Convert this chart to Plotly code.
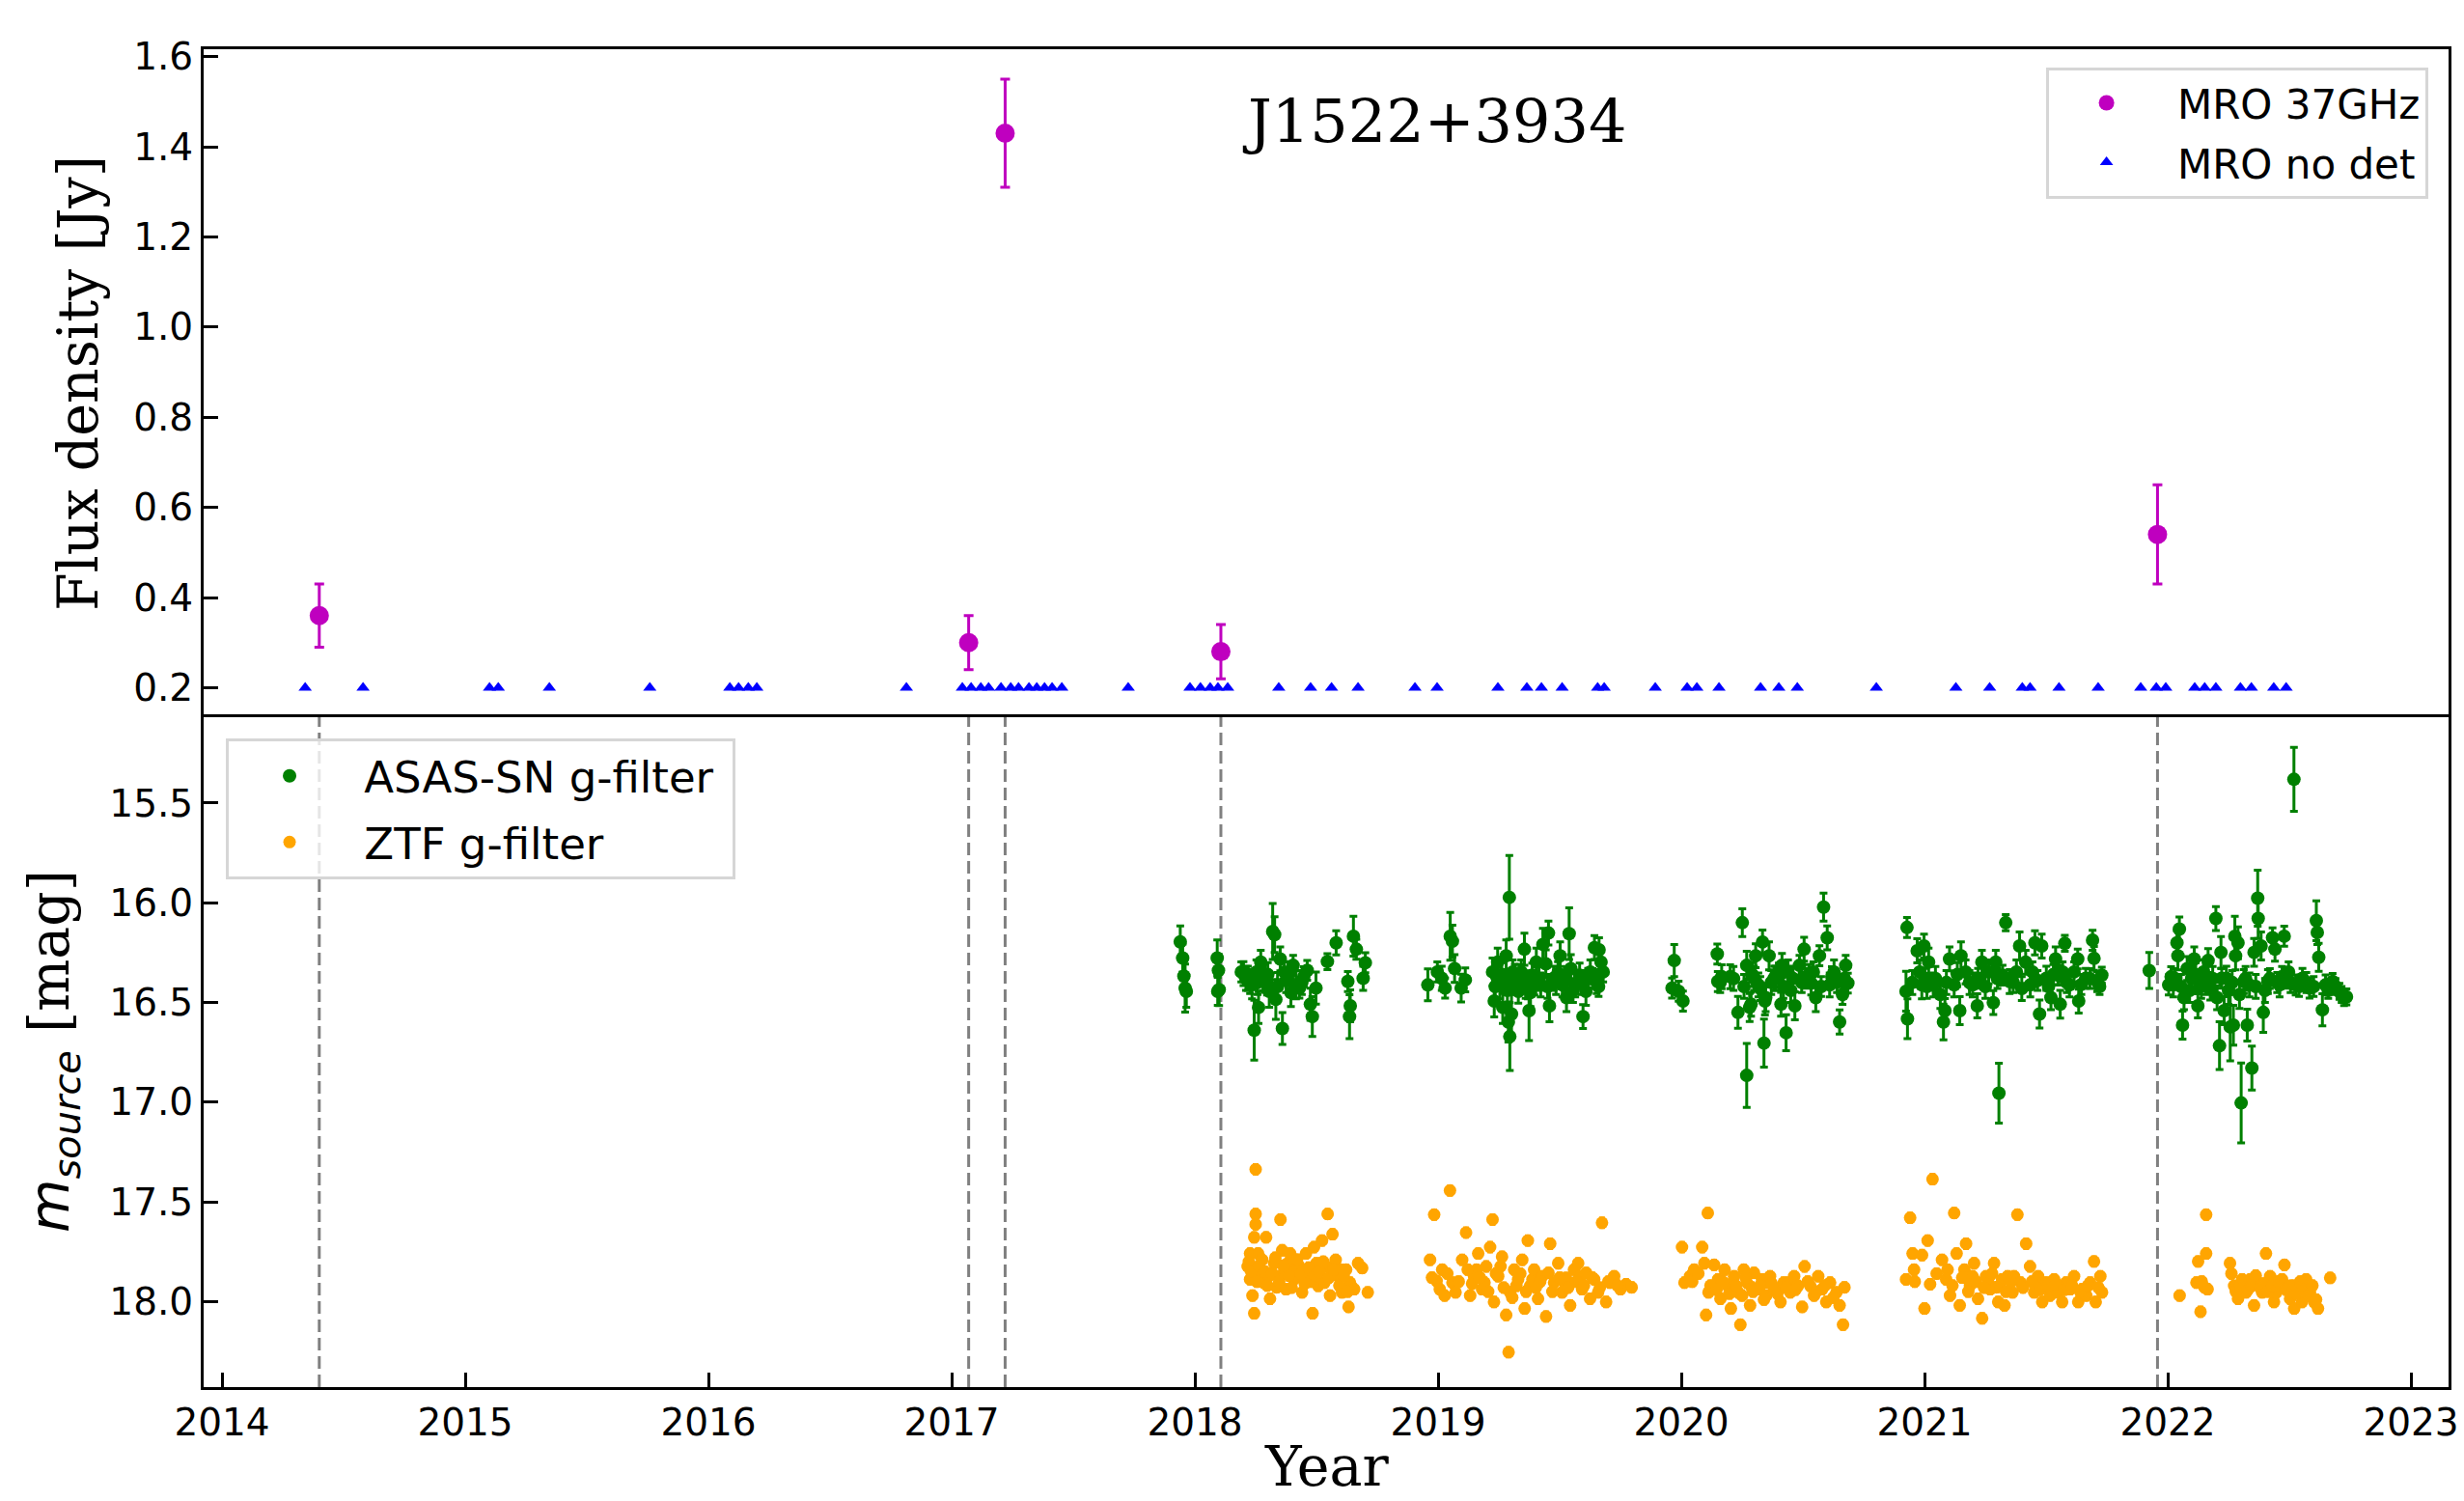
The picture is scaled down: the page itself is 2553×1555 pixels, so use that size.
import plotly.graph_objects as go

# ---------------- data ----------------
mro_year = [2014.40, 2017.07, 2017.22, 2018.107, 2021.958]
mro_flux = [0.36, 0.30, 1.43, 0.28, 0.54]
mro_err = [0.07, 0.06, 0.12, 0.06, 0.11]

nodet_year = [2014.342, 2014.580, 2015.100, 2015.136, 2015.346, 2015.759,
              2016.088, 2016.124, 2016.164, 2016.199, 2016.814,
              2017.044, 2017.080, 2017.120, 2017.152, 2017.203, 2017.243,
              2017.275, 2017.318, 2017.350, 2017.382, 2017.413, 2017.453,
              2017.726, 2017.980, 2018.023, 2018.063, 2018.095, 2018.135,
              2018.345, 2018.476, 2018.562, 2018.671, 2018.905, 2018.996,
              2019.246, 2019.365, 2019.425, 2019.510, 2019.656, 2019.683,
              2019.893, 2020.024, 2020.064, 2020.155, 2020.326, 2020.401,
              2020.477, 2020.802, 2021.129, 2021.268, 2021.402, 2021.434,
              2021.553, 2021.714, 2021.889, 2021.953, 2021.992, 2022.111,
              2022.152, 2022.198, 2022.299, 2022.344, 2022.436, 2022.487]
nodet_flux = [0.2] * len(nodet_year)

asas_year = [
    2017.940, 2017.950, 2017.955, 2017.960, 2017.965, 2018.092, 2018.097, 2018.100, 2018.094,
    2018.191, 2018.200, 2018.218, 2018.227, 2018.235, 2018.244, 2018.253, 2018.262, 2018.271,
    2018.280, 2018.289, 2018.297, 2018.306, 2018.320, 2018.328, 2018.333, 2018.351, 2018.360,
    2018.368, 2018.386, 2018.404, 2018.416, 2018.430, 2018.448, 2018.462, 2018.475, 2018.483,
    2018.498, 2018.545, 2018.581, 2018.629, 2018.639, 2018.636, 2018.652, 2018.664, 2018.692,
    2018.701,
    2018.958, 2018.997, 2019.015, 2019.029, 2019.050, 2019.059, 2019.068, 2019.095, 2019.112,
    2019.224, 2019.231, 2019.241, 2019.245, 2019.254, 2019.266, 2019.272, 2019.280, 2019.289,
    2019.293, 2019.295, 2019.302, 2019.307, 2019.316, 2019.330, 2019.342, 2019.348, 2019.355,
    2019.369, 2019.374, 2019.387, 2019.396, 2019.404, 2019.422, 2019.431, 2019.443, 2019.454,
    2019.458, 2019.475, 2019.493, 2019.502, 2019.511, 2019.528, 2019.539, 2019.546, 2019.564,
    2019.582, 2019.596, 2019.608, 2019.617, 2019.626, 2019.643, 2019.652, 2019.662, 2019.670,
    2019.679,
    2019.962, 2019.971, 2019.989, 2020.007, 2020.148, 2020.150, 2020.166, 2020.201, 2020.233,
    2020.251, 2020.269, 2020.269, 2020.281, 2020.287, 2020.299, 2020.306, 2020.317, 2020.334,
    2020.340, 2020.344, 2020.347, 2020.361, 2020.382, 2020.387, 2020.401, 2020.410, 2020.414,
    2020.431, 2020.439, 2020.458, 2020.467, 2020.486, 2020.505, 2020.515, 2020.534, 2020.543,
    2020.553, 2020.568, 2020.585, 2020.600, 2020.610, 2020.619, 2020.628, 2020.651, 2020.663,
    2020.676, 2020.685,
    2020.924, 2020.928, 2020.930, 2020.970, 2020.980, 2020.989, 2020.998, 2021.002, 2021.017,
    2021.036, 2021.065, 2021.078, 2021.084, 2021.103, 2021.122, 2021.145, 2021.150, 2021.169,
    2021.198, 2021.217, 2021.220, 2021.236, 2021.264, 2021.283, 2021.293, 2021.306, 2021.321,
    2021.334, 2021.350, 2021.378, 2021.391, 2021.416, 2021.435, 2021.444, 2021.454, 2021.473,
    2021.482, 2021.501, 2021.520, 2021.539, 2021.549, 2021.558, 2021.568, 2021.577, 2021.596,
    2021.615, 2021.630, 2021.634, 2021.663, 2021.691, 2021.697, 2021.710, 2021.729,
    2021.924, 2022.004, 2022.014, 2022.023, 2022.038, 2022.042, 2022.048, 2022.061, 2022.067,
    2022.080, 2022.099, 2022.109, 2022.124, 2022.128, 2022.147, 2022.166, 2022.175, 2022.198,
    2022.203, 2022.213, 2022.219, 2022.222, 2022.232, 2022.241, 2022.257, 2022.270, 2022.276,
    2022.279, 2022.289, 2022.302, 2022.313, 2022.327, 2022.336, 2022.346, 2022.355, 2022.370,
    2022.372, 2022.384, 2022.393, 2022.412, 2022.431, 2022.441, 2022.460, 2022.479, 2022.488,
    2022.497, 2022.519, 2022.526, 2022.554, 2022.583, 2022.611, 2022.615, 2022.621, 2022.636,
    2022.649, 2022.678, 2022.706, 2022.725, 2022.735,
    # dense cores
    2018.210, 2018.258, 2018.300, 2018.340, 2018.375, 2018.395, 2018.440,
    2019.235, 2019.262, 2019.285, 2019.312, 2019.335, 2019.360, 2019.380, 2019.415, 2019.450,
    2019.485, 2019.520, 2019.555, 2019.590, 2019.635, 2019.660,
    2020.160, 2020.215, 2020.258, 2020.292, 2020.325, 2020.370, 2020.420, 2020.450, 2020.495,
    2020.525, 2020.575, 2020.640, 2020.670,
    2020.950, 2021.010, 2021.045, 2021.090, 2021.135, 2021.185, 2021.250, 2021.300, 2021.365,
    2021.400, 2021.465, 2021.510, 2021.530, 2021.585, 2021.645, 2021.680, 2021.720,
    2022.030, 2022.055, 2022.090, 2022.115, 2022.138, 2022.156, 2022.185, 2022.250, 2022.265,
    2022.295, 2022.320, 2022.362, 2022.400, 2022.420, 2022.450, 2022.470, 2022.505, 2022.540,
    2022.570, 2022.600, 2022.660, 2022.690, 2022.715]
asas_mag = [
    16.196, 16.277, 16.368, 16.428, 16.444, 16.277, 16.339, 16.436, 16.444,
    16.347, 16.355, 16.379, 16.395, 16.412, 16.639, 16.347, 16.525, 16.298,
    16.371, 16.379, 16.403, 16.444, 16.144, 16.160, 16.485, 16.282, 16.631,
    16.347, 16.355, 16.314, 16.412, 16.428, 16.371, 16.339, 16.509, 16.571,
    16.428, 16.295, 16.201, 16.395, 16.517, 16.571, 16.168, 16.233, 16.379,
    16.301,
    16.412, 16.347, 16.379, 16.428, 16.168, 16.193, 16.330, 16.428, 16.387,
    16.347, 16.493, 16.371, 16.298, 16.412, 16.525, 16.395, 16.266, 16.598,
    15.973, 16.671, 16.558, 16.347, 16.379, 16.444, 16.347, 16.387, 16.233,
    16.412, 16.541, 16.363, 16.403, 16.298, 16.412, 16.209, 16.306, 16.152,
    16.517, 16.379, 16.355, 16.266, 16.412, 16.476, 16.155, 16.330, 16.412,
    16.363, 16.571, 16.444, 16.379, 16.347, 16.225, 16.395, 16.236, 16.298,
    16.347,
    16.428, 16.290, 16.444, 16.493, 16.257, 16.395, 16.371, 16.371, 16.550,
    16.100, 16.314, 16.866, 16.525, 16.509, 16.379, 16.266, 16.412, 16.197,
    16.704, 16.493, 16.476, 16.266, 16.379, 16.379, 16.363, 16.509, 16.314,
    16.652, 16.347, 16.379, 16.517, 16.314, 16.233, 16.379, 16.403, 16.347,
    16.476, 16.266, 16.022, 16.176, 16.412, 16.371, 16.347, 16.598, 16.460,
    16.314, 16.403,
    16.444, 16.124, 16.582, 16.241, 16.347, 16.412, 16.217, 16.379, 16.298,
    16.412, 16.460, 16.598, 16.541, 16.282, 16.412, 16.541, 16.266, 16.347,
    16.412, 16.517, 16.379, 16.298, 16.347, 16.501, 16.298, 16.955, 16.363,
    16.100, 16.395, 16.347, 16.217, 16.298, 16.412, 16.347, 16.201, 16.558,
    16.217, 16.379, 16.476, 16.282, 16.363, 16.509, 16.347, 16.204, 16.412,
    16.347, 16.282, 16.493, 16.379, 16.188, 16.279, 16.395, 16.363,
    16.340, 16.412, 16.371, 16.412, 16.201, 16.266, 16.132, 16.614, 16.476,
    16.330, 16.379, 16.282, 16.517, 16.395, 16.347, 16.290, 16.428, 16.079,
    16.476, 16.717, 16.249, 16.379, 16.541, 16.379, 16.623, 16.614, 16.168,
    16.266, 16.201, 17.004, 16.395, 16.614, 16.412, 16.829, 16.249, 15.977,
    16.079, 16.217, 16.550, 16.395, 16.176, 16.233, 16.412, 16.168, 16.379,
    16.347, 15.381, 16.412, 16.379, 16.428, 16.090, 16.149, 16.274, 16.537,
    16.412, 16.395, 16.444, 16.476, 16.472,
    # dense cores
    16.38, 16.40, 16.36, 16.42, 16.39, 16.45, 16.40,
    16.42, 16.36, 16.44, 16.40, 16.37, 16.42, 16.45, 16.38, 16.42,
    16.40, 16.38, 16.44, 16.40, 16.38, 16.42,
    16.40, 16.38, 16.42, 16.36, 16.43, 16.40, 16.42, 16.44, 16.40,
    16.36, 16.42, 16.40, 16.38,
    16.40, 16.42, 16.38, 16.40, 16.36, 16.40, 16.42, 16.38, 16.40,
    16.43, 16.39, 16.42, 16.36, 16.40, 16.41, 16.38, 16.42,
    16.38, 16.42, 16.44, 16.36, 16.42, 16.40, 16.38, 16.44, 16.40,
    16.46, 16.38, 16.42, 16.44, 16.38, 16.40, 16.37, 16.40, 16.42,
    16.40, 16.42, 16.44, 16.42, 16.46]
asas_err = [
    0.08, 0.07, 0.08, 0.12, 0.08, 0.09, 0.08, 0.08, 0.07,
    0.05, 0.06, 0.06, 0.06, 0.07, 0.15, 0.06, 0.08, 0.06,
    0.07, 0.07, 0.06, 0.08, 0.14, 0.09, 0.10, 0.06, 0.08,
    0.05, 0.06, 0.05, 0.07, 0.05, 0.05, 0.05, 0.08, 0.10,
    0.08, 0.04, 0.06, 0.05, 0.08, 0.11, 0.10, 0.05, 0.06,
    0.05,
    0.08, 0.05, 0.06, 0.05, 0.12, 0.08, 0.07, 0.07, 0.06,
    0.07, 0.08, 0.06, 0.07, 0.07, 0.08, 0.06, 0.08, 0.10,
    0.21, 0.17, 0.12, 0.06, 0.07, 0.06, 0.06, 0.05, 0.08,
    0.07, 0.15, 0.06, 0.06, 0.07, 0.06, 0.08, 0.07, 0.06,
    0.08, 0.06, 0.06, 0.07, 0.06, 0.07, 0.13, 0.07, 0.06,
    0.06, 0.06, 0.07, 0.05, 0.06, 0.06, 0.06, 0.06, 0.06,
    0.05,
    0.05, 0.08, 0.05, 0.05, 0.05, 0.05, 0.06, 0.06, 0.08,
    0.07, 0.07, 0.16, 0.07, 0.06, 0.06, 0.06, 0.06, 0.06,
    0.12, 0.07, 0.07, 0.07, 0.06, 0.06, 0.06, 0.06, 0.06,
    0.09, 0.06, 0.06, 0.07, 0.05, 0.06, 0.05, 0.06, 0.05,
    0.07, 0.05, 0.07, 0.06, 0.06, 0.05, 0.06, 0.06, 0.05,
    0.05, 0.05,
    0.10, 0.05, 0.10, 0.06, 0.06, 0.07, 0.06, 0.05, 0.07,
    0.06, 0.07, 0.09, 0.06, 0.06, 0.06, 0.07, 0.07, 0.06,
    0.06, 0.06, 0.05, 0.06, 0.06, 0.06, 0.06, 0.15, 0.05,
    0.04, 0.06, 0.06, 0.07, 0.06, 0.06, 0.05, 0.06, 0.07,
    0.06, 0.06, 0.06, 0.06, 0.05, 0.07, 0.05, 0.04, 0.06,
    0.05, 0.05, 0.06, 0.05, 0.05, 0.06, 0.05, 0.04,
    0.09, 0.05, 0.05, 0.06, 0.06, 0.07, 0.06, 0.07, 0.06,
    0.06, 0.06, 0.06, 0.06, 0.05, 0.06, 0.06, 0.06, 0.06,
    0.06, 0.12, 0.08, 0.05, 0.07, 0.06, 0.17, 0.10, 0.10,
    0.07, 0.08, 0.20, 0.06, 0.08, 0.06, 0.11, 0.07, 0.14,
    0.10, 0.07, 0.10, 0.06, 0.05, 0.06, 0.06, 0.05, 0.05,
    0.05, 0.16, 0.05, 0.05, 0.05, 0.10, 0.06, 0.07, 0.08,
    0.05, 0.04, 0.04, 0.04, 0.04,
    # dense cores
    0.06, 0.06, 0.06, 0.07, 0.06, 0.07, 0.06,
    0.06, 0.06, 0.07, 0.06, 0.06, 0.06, 0.07, 0.06, 0.06,
    0.06, 0.06, 0.06, 0.06, 0.05, 0.05,
    0.05, 0.06, 0.06, 0.06, 0.06, 0.06, 0.06, 0.06, 0.05,
    0.05, 0.05, 0.05, 0.05,
    0.06, 0.06, 0.06, 0.06, 0.06, 0.06, 0.06, 0.05, 0.05,
    0.06, 0.05, 0.05, 0.05, 0.05, 0.05, 0.05, 0.04,
    0.05, 0.06, 0.06, 0.06, 0.06, 0.06, 0.06, 0.07, 0.06,
    0.07, 0.06, 0.06, 0.06, 0.05, 0.05, 0.05, 0.05, 0.05,
    0.05, 0.05, 0.04, 0.04, 0.04]

ztf_year = [
    2018.217, 2018.227, 2018.227, 2018.237, 2018.244, 2018.244, 2018.250, 2018.250, 2018.250,
    2018.260, 2018.270, 2018.277, 2018.283, 2018.293, 2018.303, 2018.309, 2018.326, 2018.336,
    2018.342, 2018.352, 2018.359, 2018.369, 2018.375, 2018.382, 2018.392, 2018.408, 2018.415,
    2018.425, 2018.441, 2018.448, 2018.457, 2018.474, 2018.484, 2018.490, 2018.500, 2018.507,
    2018.523, 2018.533, 2018.540, 2018.546, 2018.556, 2018.566, 2018.579, 2018.589, 2018.599,
    2018.605, 2018.622, 2018.632, 2018.638, 2018.655, 2018.671, 2018.688, 2018.711,
    2018.967, 2018.984, 2018.994, 2019.007, 2019.017, 2019.027, 2019.049, 2019.059, 2019.072,
    2019.099, 2019.115, 2019.132, 2019.148, 2019.158, 2019.165, 2019.181, 2019.191, 2019.198,
    2019.214, 2019.224, 2019.230, 2019.247, 2019.257, 2019.263, 2019.280, 2019.290, 2019.296,
    2019.313, 2019.322, 2019.329, 2019.346, 2019.356, 2019.369, 2019.379, 2019.388, 2019.395,
    2019.411, 2019.428, 2019.444, 2019.454, 2019.461, 2019.477, 2019.494, 2019.510, 2019.520,
    2019.526, 2019.543, 2019.559, 2019.576, 2019.586, 2019.592, 2019.609, 2019.625, 2019.642,
    2019.658, 2019.674, 2019.691, 2019.707, 2019.724, 2019.750, 2019.773, 2019.796,
    2020.003, 2020.013, 2020.036, 2020.053, 2020.086, 2020.095, 2020.109, 2020.112, 2020.102,
    2020.135, 2020.151, 2020.161, 2020.178, 2020.191, 2020.204, 2020.211, 2020.217, 2020.234,
    2020.243, 2020.257, 2020.270, 2020.283, 2020.289, 2020.299, 2020.316, 2020.332, 2020.349,
    2020.355, 2020.365, 2020.382, 2020.408, 2020.421, 2020.441, 2020.448, 2020.464, 2020.480,
    2020.497, 2020.507, 2020.530, 2020.546, 2020.563, 2020.579, 2020.596, 2020.612, 2020.638,
    2020.651, 2020.665, 2020.671,
    2020.924, 2020.941, 2020.951, 2020.957, 2020.990, 2021.000, 2021.013, 2021.023, 2021.033,
    2021.072, 2021.089, 2021.105, 2021.122, 2021.132, 2021.145, 2021.164, 2021.171, 2021.187,
    2021.197, 2021.204, 2021.220, 2021.237, 2021.253, 2021.263, 2021.270, 2021.286, 2021.296,
    2021.303, 2021.319, 2021.329, 2021.342, 2021.362, 2021.368, 2021.382, 2021.395, 2021.418,
    2021.434, 2021.451, 2021.460, 2021.467, 2021.484, 2021.500, 2021.516, 2021.533, 2021.549,
    2021.566, 2021.582, 2021.599, 2021.615, 2021.632, 2021.648, 2021.665, 2021.681, 2021.697,
    2021.704, 2021.723, 2021.730,
    2022.049, 2022.118, 2022.125, 2022.135, 2022.151, 2022.158, 2022.158, 2022.164, 2022.256,
    2022.273, 2022.289, 2022.306, 2022.322, 2022.339, 2022.355, 2022.371, 2022.388, 2022.404,
    2022.421, 2022.437, 2022.447, 2022.470, 2022.480, 2022.493, 2022.503, 2022.520, 2022.536,
    2022.552, 2022.569, 2022.585, 2022.602, 2022.618, 2022.668,
    # dense cores
    2018.222, 2018.232, 2018.255, 2018.265, 2018.288, 2018.298, 2018.318, 2018.331, 2018.347,
    2018.364, 2018.387, 2018.398, 2018.420, 2018.436, 2018.452, 2018.468, 2018.478, 2018.495,
    2018.512, 2018.528, 2018.551, 2018.572, 2018.594, 2018.612, 2018.628,
    2018.975, 2019.038, 2019.085, 2019.122, 2019.140, 2019.172, 2019.206, 2019.238, 2019.270,
    2019.305, 2019.338, 2019.362, 2019.402, 2019.420, 2019.470, 2019.500, 2019.535, 2019.568,
    2019.600, 2019.634, 2019.665, 2019.700, 2019.738,
    2020.045, 2020.070, 2020.120, 2020.145, 2020.170, 2020.198, 2020.225, 2020.250, 2020.265,
    2020.295, 2020.325, 2020.340, 2020.372, 2020.395, 2020.430, 2020.470, 2020.520, 2020.555,
    2020.590, 2020.625,
    2020.960, 2021.050, 2021.095, 2021.115, 2021.155, 2021.180, 2021.212, 2021.245, 2021.278,
    2021.310, 2021.335, 2021.355, 2021.405, 2021.442, 2021.475, 2021.508, 2021.540, 2021.575,
    2021.607, 2021.640, 2021.672, 2021.715,
    2022.140, 2022.262, 2022.280, 2022.298, 2022.314, 2022.330, 2022.346, 2022.362, 2022.380,
    2022.396, 2022.412, 2022.430, 2022.455, 2022.486, 2022.512, 2022.528, 2022.545, 2022.560,
    2022.578, 2022.595, 2022.610]
ztf_mag = [
    17.824, 17.889, 17.759, 17.970, 18.059, 17.678, 17.337, 17.561, 17.613,
    17.759, 17.856, 17.791, 17.905, 17.678, 17.873, 17.986, 17.808, 17.929,
    17.873, 17.589, 17.743, 17.840, 17.938, 17.808, 17.759, 17.889, 17.840,
    17.816, 17.954, 17.873, 17.759, 17.856, 18.059, 17.727, 17.808, 17.921,
    17.694, 17.905, 17.824, 17.561, 17.970, 17.662, 17.791, 17.873, 17.840,
    17.954, 17.840, 18.027, 17.905, 17.938, 17.808, 17.832, 17.954,
    17.791, 17.564, 17.897, 17.938, 17.840, 17.970, 17.443, 17.905, 17.954,
    17.791, 17.654, 17.970, 17.873, 17.840, 17.759, 17.938, 17.905, 17.824,
    17.727, 17.589, 18.002, 17.873, 17.824, 17.775, 18.067, 18.254, 17.954,
    17.840, 17.921, 17.889, 17.791, 18.035, 17.694, 17.921, 17.889, 17.840,
    17.986, 17.873, 18.075, 17.856, 17.710, 17.905, 17.808, 17.954, 17.905,
    17.881, 18.019, 17.840, 17.808, 17.873, 17.938, 17.856, 17.986, 17.889,
    17.954, 17.605, 18.002, 17.905, 17.873, 17.938, 17.913, 17.929,
    17.727, 17.905, 17.873, 17.840, 17.727, 17.808, 17.556, 17.954, 18.067,
    17.816, 17.889, 17.986, 17.840, 17.921, 18.035, 17.905, 17.873, 17.954,
    18.116, 17.840, 17.905, 18.019, 17.929, 17.856, 17.938, 17.889, 17.970,
    17.905, 17.873, 17.938, 18.002, 17.905, 17.905, 17.954, 17.873, 17.921,
    18.027, 17.824, 17.921, 17.970, 17.873, 17.938, 18.002, 17.905, 17.954,
    18.019, 18.116, 17.929,
    17.889, 17.580, 17.759, 17.840, 17.767, 18.035, 17.694, 17.913, 17.386,
    17.791, 17.889, 17.970, 17.556, 17.759, 18.019, 17.840, 17.710, 17.921,
    17.873, 17.808, 17.986, 18.084, 17.873, 17.905, 17.938, 17.808, 17.929,
    18.002, 17.889, 18.019, 17.873, 17.954, 17.873, 17.564, 17.905, 17.710,
    17.824, 17.954, 17.921, 17.873, 18.002, 17.905, 17.970, 17.889, 17.954,
    18.002, 17.905, 17.938, 17.873, 18.002, 17.938, 17.970, 17.905, 17.799,
    18.002, 17.873, 17.954,
    17.970, 17.905, 17.799, 18.051, 17.929, 17.564, 17.759, 17.938, 17.808,
    17.921, 17.986, 17.889, 17.954, 17.889, 18.019, 17.905, 17.954, 17.759,
    17.873, 18.002, 17.954, 17.889, 17.816, 17.921, 17.986, 18.035, 17.929,
    18.002, 17.889, 17.954, 18.002, 18.035, 17.881,
    # dense cores
    17.80, 17.85, 17.90, 17.82, 17.85, 17.92, 17.86, 17.78, 17.90,
    17.82, 17.87, 17.93, 17.79, 17.86, 17.91, 17.83, 17.90, 17.87,
    17.85, 17.80, 17.88, 17.84, 17.92, 17.87, 17.95,
    17.88, 17.86, 17.90, 17.84, 17.91, 17.88, 17.95, 17.86, 17.93,
    17.98, 17.86, 17.95, 17.93, 17.90, 17.95, 17.88, 17.93, 17.90,
    17.92, 17.88, 17.93, 17.90, 17.92,
    17.90, 17.86, 17.92, 17.94, 17.90, 17.96, 17.92, 17.97, 17.88,
    17.95, 17.92, 17.99, 17.91, 17.96, 17.93, 17.94, 17.90, 17.95,
    17.92, 17.98,
    17.90, 17.86, 17.84, 17.92, 17.88, 17.95, 17.90, 17.93, 17.86,
    17.92, 17.95, 17.90, 17.93, 17.90, 17.94, 17.92, 17.91, 17.94,
    17.92, 17.95, 17.92, 17.93,
    17.90, 17.86, 17.95, 17.92, 17.90, 17.94, 17.92, 17.87, 17.93,
    17.91, 17.95, 17.92, 17.90, 17.94, 17.92, 17.96, 17.90, 17.94,
    17.97, 17.92, 17.99]

x_ticks = [2014, 2015, 2016, 2017, 2018, 2019, 2020, 2021, 2022, 2023]
flux_ticks = [0.2, 0.4, 0.6, 0.8, 1.0, 1.2, 1.4, 1.6]
mag_ticks = [15.5, 16.0, 16.5, 17.0, 17.5, 18.0]

# ---------------- figure ----------------
W, H = 2553, 1555
ML, MR, MT, MB = 211, 16, 51, 118
PW = W - ML - MR          # plot width in px
PH = H - MT - MB          # plot height in px
SPLIT = 0.5008

SERIF = "DejaVu Serif"
SANS = "DejaVu Sans"
NB = "\u00a0"


def px_x(px):
    return (px - ML) / PW


def px_y(py):
    return (H - MB - py) / PH


fig = go.Figure()

fig.add_trace(go.Scatter(
    x=mro_year, y=mro_flux, mode="markers", name=NB + "MRO 37GHz",
    marker=dict(color="#bf00bf", size=20, symbol="circle"),
    error_y=dict(type="data", array=mro_err, visible=True, color="#bf00bf",
                 thickness=3, width=5),
    xaxis="x", yaxis="y", legend="legend", legendgroup="a"))
fig.add_trace(go.Scatter(
    x=nodet_year, y=nodet_flux, mode="markers", name=NB + "MRO no det",
    marker=dict(color="#0000ff", size=12, symbol="triangle-up"),
    xaxis="x", yaxis="y", legend="legend", legendgroup="b"))

fig.add_trace(go.Scatter(
    x=asas_year, y=asas_mag, mode="markers", name=NB + "ASAS-SN g-filter" + NB,
    marker=dict(color="#008000", size=14),
    error_y=dict(type="data", array=asas_err, visible=True, color="#008000",
                 thickness=3, width=4),
    xaxis="x2", yaxis="y2", legend="legend2", legendgroup="c"))
fig.add_trace(go.Scatter(
    x=ztf_year, y=ztf_mag, mode="markers", name=NB + "ZTF g-filter",
    marker=dict(color="#ffa500", size=13),
    error_y=dict(type="constant", value=0.025, visible=True, color="#ffa500",
                 thickness=2.5, width=3),
    xaxis="x2", yaxis="y2", legend="legend2", legendgroup="d"))

# dashed vertical lines at MRO detections (bottom panel)
for xv in mro_year:
    fig.add_shape(type="line", xref="x2", yref="y2 domain", x0=xv, x1=xv,
                  y0=0, y1=1, line=dict(color="#808080", width=3, dash="13px,6px"),
                  layer="below")

XR = [2013.9246, 2023.1547]
tickfont = dict(family=SANS, size=39, color="black")
axis_common = dict(showline=True, linecolor="black", linewidth=3, mirror=True,
                   showgrid=False, zeroline=False, ticks="inside", ticklen=15,
                   tickwidth=2.5, tickcolor="black", tickfont=tickfont,
                   automargin=False)

title_font = dict(family=SERIF, size=57, color="black")

fig.update_layout(
    width=W, height=H,
    margin=dict(l=ML, r=MR, t=MT, b=MB, autoexpand=False),
    paper_bgcolor="white", plot_bgcolor="white",
    xaxis=dict(domain=[0, 1], anchor="y", range=XR, side="top", showticklabels=False,
               showline=True, linecolor="black", linewidth=3, mirror=False,
               showgrid=False, zeroline=False, ticks="", automargin=False),
    yaxis=dict(domain=[SPLIT, 1], anchor="x", range=[0.1349, 1.6163],
               tickvals=flux_ticks, tickformat=".1f", **axis_common),
    xaxis2=dict(domain=[0, 1], anchor="y2", range=XR, matches="x",
                tickvals=x_ticks, tickformat="d", **axis_common),
    yaxis2=dict(domain=[0, SPLIT], anchor="x2", range=[18.429, 15.069],
                tickvals=mag_ticks, tickformat=".1f", **axis_common),
    legend=dict(x=0.9908, y=0.9865, xanchor="right", yanchor="top",
                bgcolor="rgba(255,255,255,0.8)", bordercolor="#d6d6d6", borderwidth=3,
                font=dict(family=SANS, size=42, color="black"),
                itemwidth=110, tracegroupgap=4, itemsizing="trace"),
    legend2=dict(x=0.0099, y=0.4848, xanchor="left", yanchor="top",
                 bgcolor="rgba(255,255,255,0.8)", bordercolor="#d6d6d6", borderwidth=3,
                 font=dict(family=SANS, size=45, color="black"),
                 itemwidth=116, tracegroupgap=7, itemsizing="trace"),
    showlegend=True,
    annotations=[
        dict(text="J1522+3934", x=0.548, y=0.9466, xref="paper", yref="paper",
             xanchor="center", yanchor="middle", showarrow=False,
             font=dict(family=SERIF, size=62, color="black")),
        dict(text="Flux density [Jy]", x=px_x(81), y=px_y(397), xref="paper", yref="paper",
             xanchor="center", yanchor="middle", textangle=-90, showarrow=False,
             font=title_font),
        dict(text='<span style="font-family:DejaVu Sans"><i>m</i><sub><i>source</i></sub></span> [mag]',
             x=px_x(55), y=px_y(1089), xref="paper", yref="paper",
             xanchor="center", yanchor="middle", textangle=-90, showarrow=False,
             font=title_font),
        dict(text="Year", x=px_x(1374), y=px_y(1554), xref="paper", yref="paper",
             xanchor="center", yanchor="bottom", showarrow=False, font=title_font),
    ],
)

fig.write_html("out.html")
